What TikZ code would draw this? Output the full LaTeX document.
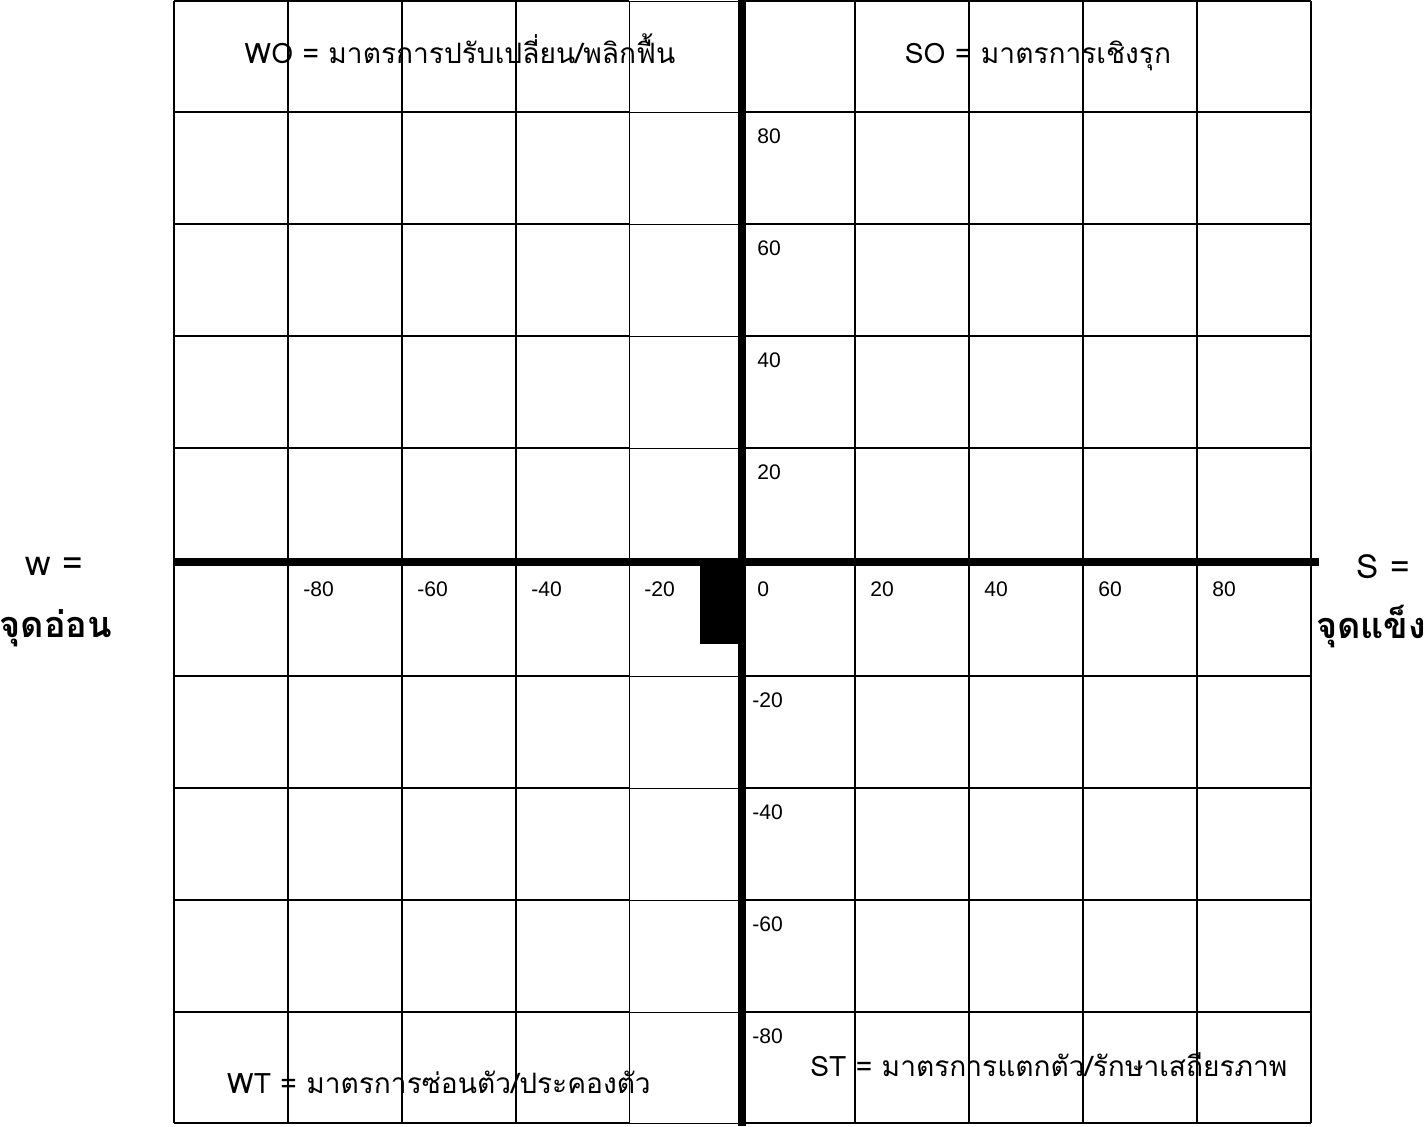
\documentclass[tikz,border=0pt]{standalone}
\usepackage{fontspec}
\setsansfont{Liberation Sans}
\newfontfamily\thaifont[Script=Thai]{Loma}
\usetikzlibrary{positioning}

\begin{document}
\begin{tikzpicture}[
  x=0.02cm, y=-0.02cm,
  grid/.style={line width=0.9pt},
  thingrid/.style={line width=0.55pt},
  axisline/.style={line width=5pt},
  tick/.style={font=\sffamily\fontsize{12}{14}\selectfont,inner sep=0pt,anchor=west},
  quad/.style={font=\thaifont\fontsize{16}{19}\selectfont,inner sep=0pt,anchor=base},
  side/.style={font=\thaifont\fontsize{20.5}{24}\selectfont,inner sep=0pt,anchor=base},
]
\useasboundingbox (0,0) rectangle (1425,1126);

%================================================================== GRID ===
\foreach \x in {174,288,402,516,855,969,1083,1197,1311}
  \draw[grid] (\x,1) -- (\x,1123);
\draw[thingrid] (629,1) -- (629,1123);
\foreach \y in {1,112,224,336,448,676,788,900,1012,1123}{
  \draw[grid] (174,\y) -- (629,\y);
  \draw[thingrid] (629,\y) -- (742,\y);
  \draw[grid] (742,\y) -- (1311,\y);
}

%================================================================== AXES ===
\draw[axisline] (742,0) -- (742,1126);
\draw[axisline] (174,562) -- (1319,562);
\fill (700,562) rectangle (742,644);

% scale values
\foreach \v/\x in {-80/288,-60/402,-40/516,-20/629,0/742,20/855,40/969,60/1083,80/1197}
  \node[tick] (tx\v) at (\x+15,589) {\v};
\foreach \v/\y in {80/112,60/224,40/336,20/448}
  \node[tick] (ty\v) at (757,\y+24) {\v};
\foreach \v/\y in {-20/676,-40/788,-60/900,-80/1012}
  \node[tick] (ty\v) at (752,\y+24) {\v};

%============================================================= QUADRANTS ===
\node[quad] (wo) at (460,63)   {WO = มาตรการปรับเปลี่ยน/พลิกฟื้น};
\node[quad] (so) at (1038,63)  {SO = มาตรการเชิงรุก};
\node[quad] (wt) at (439,1093) {WT = มาตรการซ่อนตัว/ประคองตัว};
\node[quad] (st) at (1049,1076) {ST = มาตรการแตกตัว/รักษาเสถียรภาพ};

%================================================================= SIDES ===
\node[side,font=\thaifont\fontsize{20}{24}\selectfont] (wside) at (54,575) {w =};
\node[side] (wname) at (56,637) {\bfseries จุดอ่อน};
\node[side,font=\thaifont\fontsize{19}{23}\selectfont] (sside) at (1383,578) {S =};
\node[side] (sname) at (1371,638) {\bfseries จุดแข็ง};

\end{tikzpicture}
\end{document}
